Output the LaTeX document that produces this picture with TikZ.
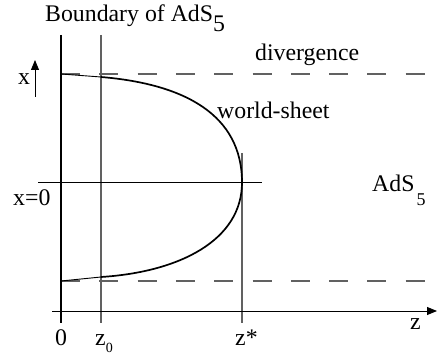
\documentclass[tikz,border=0pt]{standalone}
\usepackage{fontspec}
\setmainfont{Liberation Serif}
\usetikzlibrary{arrows.meta}
\begin{document}
\begin{tikzpicture}[x=1pt,y=1pt,
  lbl/.style={anchor=base west,inner sep=0pt,font=\fontsize{23.8}{28}\selectfont},
  graylin/.style={draw=black!62,line width=1.3pt},
  dashlin/.style={draw=black!62,line width=1.1pt,dash pattern=on 19pt off 19.3pt},
  bound/.style={draw=black,line width=2pt},
  sheet/.style={draw=black,line width=1.7pt},
  thinl/.style={draw=black,line width=0.9pt},
  ax/.style={draw=black,line width=1pt,-{Triangle[length=10pt,width=8pt]}}]
\useasboundingbox (0,0) rectangle (437,354);
% coordinates
\coordinate (bT) at (61,319);
\coordinate (bB) at (61,31);
\coordinate (z0T) at (101,319);
\coordinate (z0B) at (101,31);
\coordinate (zsT) at (242,201);
\coordinate (zsB) at (242,31);
\coordinate (hL) at (38,171.5);
\coordinate (hR) at (262,171.5);
\coordinate (dTL) at (61,280);
\coordinate (dTR) at (430,280);
\coordinate (dBL) at (61,73);
\coordinate (dBR) at (430,73);
\coordinate (axL) at (52,43);
\coordinate (axR) at (437,43);
\coordinate (xaB) at (35,257);
\coordinate (xaT) at (35,294);
\coordinate (cA) at (61,280);
\coordinate (cB) at (101,277);
\coordinate (cM) at (242,171.5);
\coordinate (cC) at (101,77);
\coordinate (cD) at (61,73);
% lines
\draw[dashlin] (dTL) -- (dTR);
\draw[dashlin] (dBL) -- (dBR);
\draw[graylin] (z0T) -- (z0B);
\draw[graylin] (zsT) -- (zsB);
\draw[thinl] (hL) -- (hR);
\draw[ax] (axL) -- (axR);
\draw[ax] (xaB) -- (xaT);
\draw[bound] (bT) -- (bB);
\draw[thinl] (cA) -- (cB);
\draw[thinl] (cC) -- (cD);
\draw[sheet] (cB) .. controls (185,270) and (242,239) .. (cM)
  .. controls (242,114) and (180,82) .. (cC);
% labels
\node[lbl] (tb) at (45,332) {Boundary of AdS\raisebox{-10pt}{5}};
\node[lbl] (tdiv) at (255,293) {divergence};
\node[lbl] (tws) at (217,235) {world-sheet};
\node[lbl] (tads) at (372,162) {AdS\hspace{2pt}\raisebox{-14pt}{\fontsize{18}{20}\selectfont 5}};
\node[lbl] (tx0) at (13,148) {x=0};
\node[lbl] (tx) at (18,269) {x};
\node[lbl,anchor=base] (t0) at (61,9) {0};
\node[lbl] (tz0) at (95,9) {z\raisebox{-7pt}{\fontsize{14}{16}\selectfont 0}};
\node[lbl] (tzs) at (235,9) {z*};
\node[lbl] (tz) at (410,24) {z};
\end{tikzpicture}
\end{document}
